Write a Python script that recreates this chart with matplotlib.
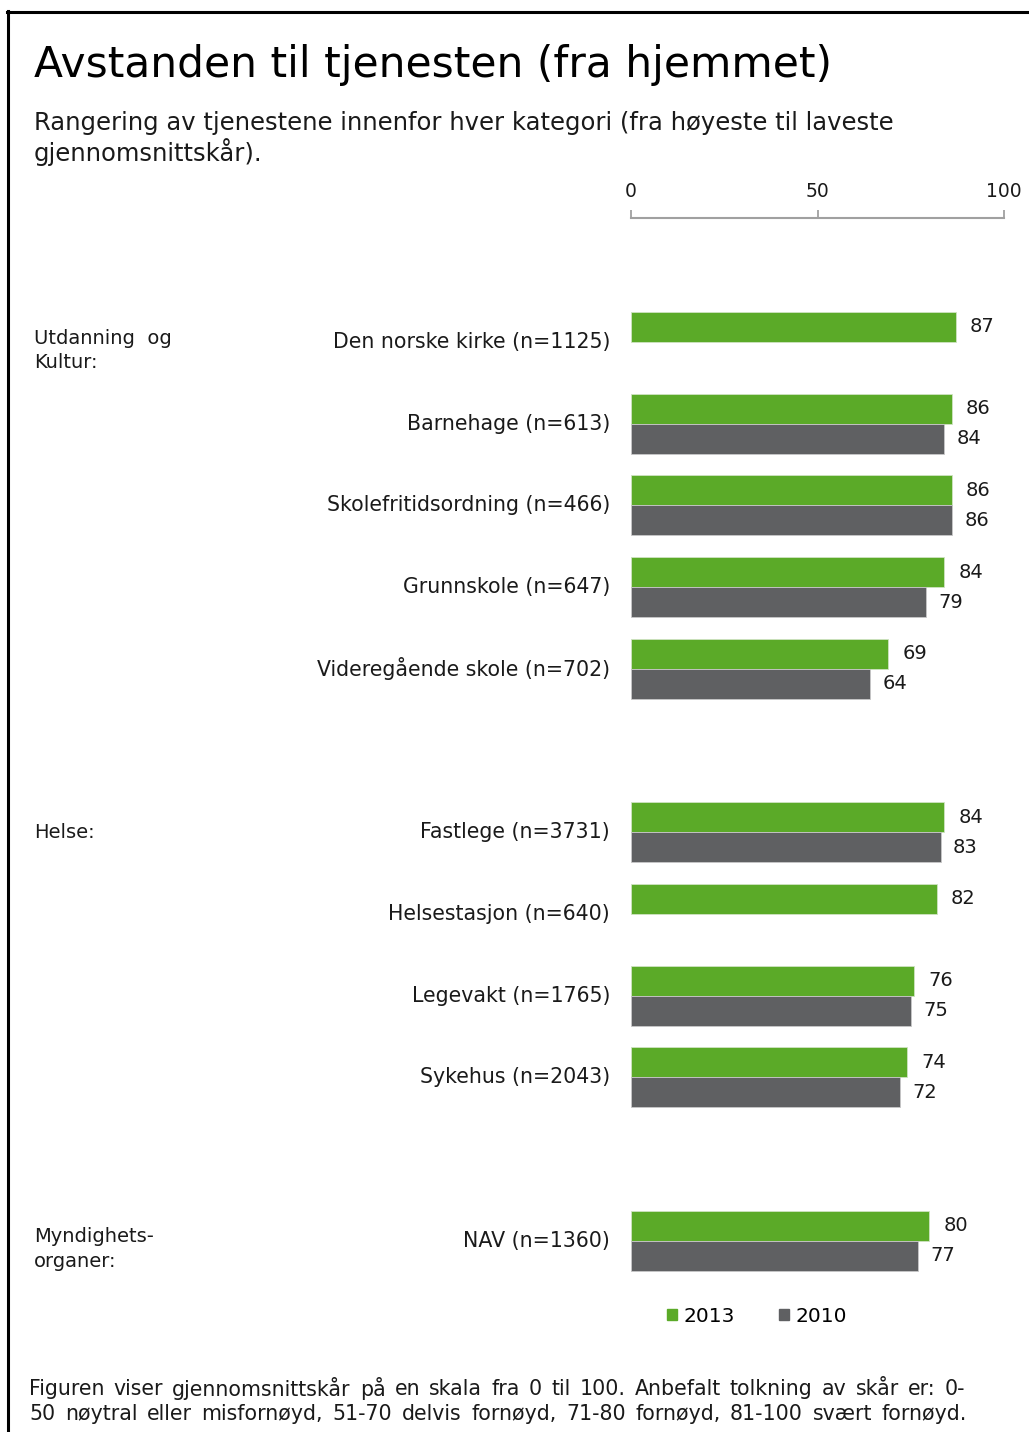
import numpy as np
import matplotlib
matplotlib.use("Agg")
import matplotlib.pyplot as plt
from matplotlib.patches import Patch
from matplotlib.lines import Line2D

plt.rcParams["font.family"] = ["DejaVu Sans"]

# data
groups = [["Utdanning  og", "Kultur:"], ["Helse:"], ["Myndighets-", "organer:"]]
services = [
    ["Den norske kirke (n=1125)", "Barnehage (n=613)", "Skolefritidsordning (n=466)",
     "Grunnskole (n=647)", "Videregående skole (n=702)"],
    ["Fastlege (n=3731)", "Helsestasjon (n=640)", "Legevakt (n=1765)", "Sykehus (n=2043)"],
    ["NAV (n=1360)"],
]
scores_2013 = [87, 86, 86, 84, 69, 84, 82, 76, 74, 80]
scores_2010 = [None, 84, 86, 79, 64, 83, None, 75, 72, 77]
series_names = ["2013", "2010"]
x_ticks = [0, 50, 100]
title = "Avstanden til tjenesten (fra hjemmet)"
subtitle = ["Rangering av tjenestene innenfor hver kategori (fra høyeste til laveste",
            "gjennomsnittskår)."]
footnote = ["Figuren viser gjennomsnittskår på en skala fra 0 til 100. Anbefalt tolkning av skår er: 0-",
            "50 nøytral eller misfornøyd, 51-70 delvis fornøyd, 71-80 fornøyd, 81-100 svært fornøyd."]

GREEN = "#5BAA28"
GRAY = "#5F6062"
TXT = "#1a1a1a"

W, H = 1029, 1432
fig = plt.figure(figsize=(W / 100, H / 100), dpi=100)


def fx(px):
    return px / W


def fy(py):
    return 1 - py / H


# row positions: one empty row between groups
rows = []
group_rows = []
r = 0
for g in services:
    group_rows.append(r)
    for _ in g:
        rows.append(r)
        r += 1
    r += 1
rows = np.array(rows, dtype=float)
n_last = rows[-1]

row_px0, row_step = 342, 81.7
top_px = row_px0 - row_step / 2
bot_px = row_px0 + n_last * row_step + row_step / 2
ax = fig.add_axes([fx(631), fy(bot_px), fx(1004) - fx(631), (bot_px - top_px) / H])
ax.set_xlim(0, 100)
ax.set_ylim(n_last + 0.5, -0.5)
ax.axis("off")

bh = 30 / row_step
v13 = np.array(scores_2013, dtype=float)
v10 = np.array([np.nan if v is None else v for v in scores_2010])
ax.barh(rows - bh / 2, v13, height=bh, color=GREEN, edgecolor="#cfe3c2", linewidth=0.6)
m = ~np.isnan(v10)
ax.barh(rows[m] + bh / 2, v10[m], height=bh, color=GRAY, edgecolor="#c8c8c8", linewidth=0.6)

for y, v in zip(rows, v13):
    ax.annotate(f"{v:.0f}", (v, y - bh / 2), xytext=(10, 0), textcoords="offset points",
                va="center", ha="left", fontsize=14, color=TXT)
for y, v in zip(rows[m], v10[m]):
    ax.annotate(f"{v:.0f}", (v, y + bh / 2), xytext=(9, 0), textcoords="offset points",
                va="center", ha="left", fontsize=14, color=TXT)

labels = [s for g in services for s in g]
for y, lab in zip(rows, labels):
    ax.annotate(lab, (0, y), xytext=(-15, 0), textcoords="offset points",
                ha="right", va="center", fontsize=14.8, color=TXT)

for gy, glines in zip(group_rows, groups):
    ypx = row_px0 + gy * row_step
    if len(glines) == 2:
        ys = [ypx - 4, ypx + 21]
    else:
        ys = [ypx]
    for yl, txt in zip(ys, glines):
        fig.text(fx(34), fy(yl), txt, ha="left", va="center", fontsize=14, color=TXT)

# top scale axis
sax = fig.add_axes([fx(631), fy(218), fx(1004) - fx(631), 0.0001])
sax.set_xlim(0, 100)
sax.set_ylim(0, 1)
for s in ["left", "right", "bottom"]:
    sax.spines[s].set_visible(False)
sax.spines["top"].set_color("#A0A0A0")
sax.spines["top"].set_linewidth(1.5)
sax.set_yticks([])
sax.xaxis.tick_top()
sax.set_xticks(x_ticks)
sax.set_xticklabels([str(t) for t in x_ticks])
sax.tick_params(axis="x", direction="out", length=6, width=1.3, color="#A0A0A0",
                pad=6, labelsize=13.5, labelcolor=TXT)
sax.patch.set_visible(False)

# titles
fig.text(fx(34), fy(65), title, ha="left", va="center", fontsize=30.5, color="black")
for yl, txt in zip([123, 152], subtitle):
    fig.text(fx(34), fy(yl), txt, ha="left", va="center", fontsize=17.5, color=TXT)

# legend
handles = [Patch(color=GREEN), Patch(color=GRAY)]
fig.legend(handles, series_names, loc="center", bbox_to_anchor=(fx(757), fy(1316)), ncol=2,
           frameon=False, handlelength=0.5, handleheight=0.5, handletextpad=0.3,
           columnspacing=2.2, fontsize=14.5)


# footnote, justified between x0 and x1
def justify(line, x0, x1, ypx, size):
    renderer = fig.canvas.get_renderer()
    words = line.split(" ")
    arts = [fig.text(0, fy(ypx), w, ha="left", va="center", fontsize=size, color=TXT)
            for w in words]
    widths = [a.get_window_extent(renderer).width for a in arts]
    gap = (x1 - x0 - sum(widths)) / (len(words) - 1)
    x = x0
    for a, w in zip(arts, widths):
        a.set_x(fx(x))
        x += w + gap


justify(footnote[0], 29, 965, 1389, 14.8)
justify(footnote[1], 29, 967, 1414, 14.8)

# frame
fig.add_artist(Line2D([fx(8), fx(8)], [fy(11), 0], color="black", linewidth=2.2))
fig.add_artist(Line2D([fx(7), 1], [fy(12), fy(12)], color="black", linewidth=2.2))

fig.savefig("out.png", dpi=100)
